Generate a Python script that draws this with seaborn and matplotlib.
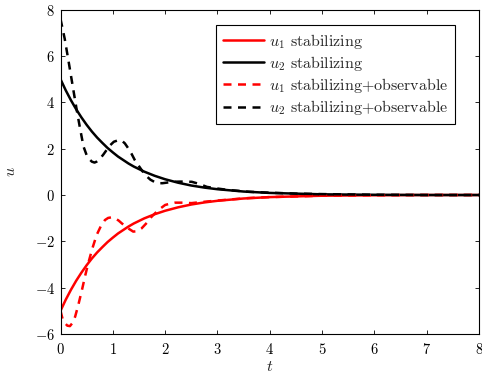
import matplotlib
matplotlib.use("Agg")
import matplotlib.pyplot as plt
import seaborn as sns
import pandas as pd

# Time samples and control signals
t_state = [0.0, 0.1, 0.2, 0.3, 0.4, 0.5, 0.6, 0.7, 0.8, 0.9, 1.0, 1.1, 1.2, 1.3,
           1.4, 1.5, 1.6, 1.8, 2.0, 2.25, 2.5, 2.75, 3.0, 3.5, 4.0, 4.5, 5.0,
           5.5, 6.0, 7.0, 8.0]
u2_stab = [5.00, 4.52, 4.09, 3.70, 3.35, 3.03, 2.74, 2.48, 2.25, 2.03, 1.84,
           1.66, 1.51, 1.36, 1.23, 1.12, 1.01, 0.83, 0.68, 0.53, 0.41, 0.32,
           0.25, 0.15, 0.09, 0.06, 0.03, 0.02, 0.01, 0.00, 0.00]
u1_stab = [-5.00, -4.52, -4.09, -3.70, -3.35, -3.03, -2.74, -2.48, -2.25, -2.03,
           -1.84, -1.66, -1.51, -1.36, -1.23, -1.12, -1.01, -0.83, -0.68, -0.53,
           -0.41, -0.32, -0.25, -0.15, -0.09, -0.06, -0.03, -0.02, -0.01, 0.00,
           0.00]

t_u2_obs = [0.0, 0.08, 0.15, 0.23, 0.31, 0.38, 0.44, 0.50, 0.55, 0.60, 0.65,
            0.69, 0.75, 0.82, 0.88, 0.95, 1.02, 1.11, 1.17, 1.23, 1.30, 1.36,
            1.42, 1.52, 1.62, 1.72, 1.80, 1.87, 1.95, 2.05, 2.13, 2.30, 2.51,
            2.65, 2.80, 3.0, 3.2, 3.6, 4.0, 4.5, 5.0, 6.0, 7.0, 8.0]
u2_obs = [7.60, 6.75, 5.83, 4.75, 3.67, 2.80, 2.09, 1.72, 1.55, 1.44, 1.40,
          1.44, 1.55, 1.75, 1.94, 2.15, 2.30, 2.37, 2.35, 2.23, 2.00, 1.77,
          1.51, 1.18, 0.86, 0.66, 0.56, 0.51, 0.51, 0.54, 0.57, 0.58, 0.57,
          0.48, 0.35, 0.28, 0.22, 0.14, 0.10, 0.06, 0.04, 0.01, 0.00, 0.00]

t_u1_obs = [0.0, 0.04, 0.09, 0.13, 0.18, 0.23, 0.28, 0.34, 0.41, 0.47, 0.53,
            0.61, 0.69, 0.77, 0.85, 0.91, 0.98, 1.05, 1.11, 1.17, 1.28, 1.39,
            1.47, 1.55, 1.65, 1.74, 1.87, 2.0, 2.10, 2.19, 2.35, 2.5, 2.8, 3.2,
            3.6, 4.0, 4.5, 5.0, 6.0, 7.0, 8.0]
u1_obs = [-5.00, -5.35, -5.54, -5.64, -5.66, -5.52, -5.25, -4.75, -4.10,
          -3.50, -2.95, -2.30, -1.73, -1.35, -1.08, -0.99, -0.96, -1.02,
          -1.10, -1.22, -1.42, -1.58, -1.56, -1.44, -1.20, -0.94, -0.65,
          -0.43, -0.37, -0.33, -0.33, -0.35, -0.28, -0.20, -0.13, -0.09,
          -0.06, -0.03, -0.01, 0.00, 0.00]

labels = [r"$u_1$ stabilizing", r"$u_2$ stabilizing",
          r"$u_1$ stabilizing+observable", r"$u_2$ stabilizing+observable"]
x_ticks = [0, 1, 2, 3, 4, 5, 6, 7, 8]
y_ticks = [-6, -4, -2, 0, 2, 4, 6, 8]

sns.set_style("white")
plt.rcParams["font.family"] = ["cmr10", "DejaVu Serif"]
plt.rcParams["mathtext.fontset"] = "cm"
plt.rcParams["axes.formatter.use_mathtext"] = True
plt.rcParams["font.size"] = 10

fig = plt.figure(figsize=(4.82, 3.76), dpi=100)
ax = fig.add_axes([60.5 / 482, 1 - 334 / 376, (479 - 60.5) / 482, (334 - 9.7) / 376])

lw = 1.8
dash = (0, (3.2, 2.6))
series = [
    (t_state, u1_stab, "#ff0000", "-", labels[0]),
    (t_state, u2_stab, "#000000", "-", labels[1]),
    (t_u1_obs, u1_obs, "#ff0000", dash, labels[2]),
    (t_u2_obs, u2_obs, "#000000", dash, labels[3]),
]
for tx, uy, col, ls, lab in series:
    df = pd.DataFrame({"t": tx, "u": uy})
    sns.lineplot(data=df, x="t", y="u", color=col, linestyle=ls, linewidth=lw,
                 label=lab, estimator=None, sort=False, ax=ax)

ax.set_xlim(0, 8)
ax.set_ylim(-6, 8)
ax.set_xticks(x_ticks)
ax.set_yticks(y_ticks)
ax.set_xlabel(r"$t$", fontsize=11.5, labelpad=2)
ax.set_ylabel(r"$u$", fontsize=11.5, labelpad=12)

for s in ax.spines.values():
    s.set_visible(True)
    s.set_color("black")
    s.set_linewidth(0.8)
ax.tick_params(direction="in", length=3, width=0.6, top=True, right=True,
               bottom=True, left=True, labelsize=10.5, colors="black")
ax.tick_params(axis="x", pad=6)
ax.tick_params(axis="y", pad=4)

leg = ax.legend(loc="upper right", bbox_to_anchor=(0.943, 0.953),
                borderaxespad=0, fancybox=False, framealpha=1,
                edgecolor="black", fontsize=11.5, handlelength=2.6,
                handletextpad=0.3, labelspacing=0.2, borderpad=0.42)
leg.get_frame().set_linewidth(0.8)

fig.savefig("out.png", dpi=100, facecolor="white")
